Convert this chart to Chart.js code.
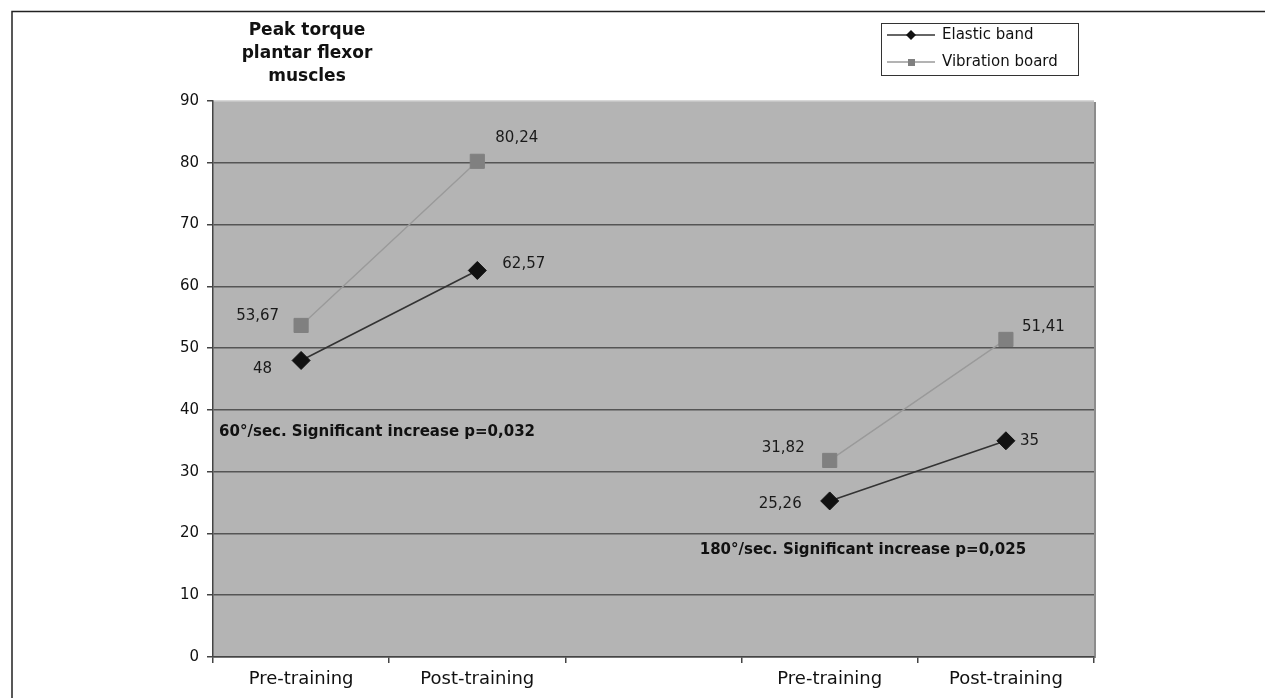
<!DOCTYPE html>
<html>
<head>
<meta charset="utf-8">
<script src="https://cdn.jsdelivr.net/npm/chart.js@4/dist/chart.umd.min.js"></script>
<style>
html,body{margin:0;padding:0;background:#fff;}
#wrap{position:relative;width:1265px;height:698px;}
</style>
</head>
<body>
<div id="wrap"><canvas id="c" width="1265" height="698"></canvas></div>
<script>
// ---- data ----
const categories = ['Pre-training', 'Post-training', '', 'Pre-training', 'Post-training'];
const elasticBand = [48, 62.57, null, 25.26, 35];
const vibrationBoard = [53.67, 80.24, null, 31.82, 51.41];
const elasticLabels = ['48', '62,57', '', '25,26', '35'];
const vibrationLabels = ['53,67', '80,24', '', '31,82', '51,41'];
const seriesNames = ['Elastic band', 'Vibration board'];
const titleLines = ['Peak torque', 'plantar flexor', 'muscles'];
const yTicks = [0, 10, 20, 30, 40, 50, 60, 70, 80, 90];
const notes = ['60°/sec. Significant increase p=0,032', '180°/sec. Significant increase p=0,025'];

// ---- placement (styles / offsets) ----
const labelPlacement = [
  // elastic
  [{dx:-29,dy:9,align:'right'},{dx:25,dy:-6,align:'left'},null,{dx:-28,dy:3,align:'right'},{dx:14,dy:0,align:'left'}],
  // vibration
  [{dx:-22,dy:-9,align:'right'},{dx:18,dy:-23,align:'left'},null,{dx:-25,dy:-12,align:'right'},{dx:16,dy:-12,align:'left'}]
];
const notePlacement = [{cat:0, value:36.4, dx:-82}, {cat:3, value:17.3, dx:-130}];

const FONT = '"DejaVu Sans", "Liberation Sans", Arial, sans-serif';

const decor = {
  id: 'decor',
  beforeDraw(chart) {
    const {ctx, chartArea: a} = chart;
    ctx.save();
    ctx.strokeStyle = '#222';
    ctx.lineWidth = 1.5;
    ctx.beginPath();
    ctx.moveTo(12, 698); ctx.lineTo(12, 11.5); ctx.lineTo(1265, 11.5);
    ctx.stroke();
    ctx.fillStyle = '#b4b4b4';
    ctx.fillRect(a.left, a.top, a.right - a.left, a.bottom - a.top);
    ctx.fillStyle = '#8c8c8c';
    ctx.fillRect(a.right, a.top + 1, 2, a.bottom - a.top);
    ctx.restore();
  },
  afterDatasetsDraw(chart) {
    const {ctx} = chart;
    ctx.save();
    ctx.fillStyle = '#111';
    ctx.font = 'bold 17px ' + FONT;
    ctx.textAlign = 'center';
    ctx.textBaseline = 'middle';
    const tY = [31, 54, 77];
    titleLines.forEach((t, i) => ctx.fillText(t, 307, tY[i]));

    ctx.font = '15px ' + FONT;
    ctx.fillStyle = '#1a1a1a';
    const lbls = [elasticLabels, vibrationLabels];
    [0, 1].forEach(di => {
      const meta = chart.getDatasetMeta(di);
      meta.data.forEach((pt, j) => {
        const p = labelPlacement[di][j];
        if (!p || !lbls[di][j]) return;
        ctx.textAlign = p.align;
        ctx.fillText(lbls[di][j], pt.x + p.dx, pt.y + p.dy);
      });
    });

    ctx.font = 'bold 15px ' + FONT;
    ctx.fillStyle = '#111';
    ctx.textAlign = 'left';
    const xs = chart.scales.x, ys = chart.scales.y;
    notes.forEach((n, i) => {
      const np = notePlacement[i];
      ctx.fillText(n, xs.getPixelForValue(np.cat) + np.dx, ys.getPixelForValue(np.value));
    });

    ctx.strokeStyle = '#333';
    ctx.lineWidth = 1;
    ctx.strokeRect(881.5, 23.5, 197, 52);
    const rows = [
      {y: 35, line: '#333', mark: 'diamond', color: '#111'},
      {y: 62, line: '#9a9a9a', mark: 'square', color: '#808080'}
    ];
    rows.forEach((r, i) => {
      ctx.strokeStyle = r.line;
      ctx.lineWidth = 1.3;
      ctx.beginPath(); ctx.moveTo(887, r.y); ctx.lineTo(935, r.y); ctx.stroke();
      ctx.fillStyle = r.color;
      if (r.mark === 'diamond') {
        ctx.beginPath();
        ctx.moveTo(911, r.y - 5); ctx.lineTo(916, r.y); ctx.lineTo(911, r.y + 5); ctx.lineTo(906, r.y);
        ctx.closePath(); ctx.fill();
      } else {
        ctx.fillRect(908, r.y - 3, 7, 7);
      }
      ctx.fillStyle = '#111';
      ctx.font = '15px ' + FONT;
      ctx.textAlign = 'left';
      ctx.fillText(seriesNames[i], 942, r.y);
    });
    ctx.restore();
  }
};

new Chart(document.getElementById('c'), {
  type: 'line',
  data: {
    labels: categories,
    datasets: [
      {
        label: seriesNames[0],
        data: elasticBand,
        borderColor: '#333',
        borderWidth: 1.6,
        pointStyle: 'rectRot',
        pointRadius: 9,
        pointBackgroundColor: '#111',
        pointBorderColor: '#111',
        pointBorderWidth: 1,
        spanGaps: false,
        tension: 0
      },
      {
        label: seriesNames[1],
        data: vibrationBoard,
        borderColor: '#9a9a9a',
        borderWidth: 1.4,
        pointStyle: 'rect',
        pointRadius: 10,
        pointBackgroundColor: '#808080',
        pointBorderColor: '#808080',
        pointBorderWidth: 1,
        spanGaps: false,
        tension: 0
      }
    ]
  },
  options: {
    responsive: false,
    animation: false,
    layout: {padding: {left: 0, top: 101, right: 171, bottom: 0}},
    plugins: {legend: {display: false}, title: {display: false}, tooltip: {enabled: false}},
    scales: {
      x: {
        type: 'category',
        offset: true,
        grid: {offset: true, drawOnChartArea: false, drawTicks: true, tickLength: 6, color: '#444', lineWidth: 1.5},
        border: {display: true, color: '#444', width: 1.5},
        ticks: {color: '#111', font: {family: FONT, size: 18}, padding: 6, maxRotation: 0, autoSkip: false},
        afterFit(s) { s.height = 41; }
      },
      y: {
        min: 0, max: 90,
        afterBuildTicks(s) { s.ticks = yTicks.map(v => ({value: v})); },
        grid: {
          color: ctx => (ctx.tick && ctx.tick.value === 90) ? '#d8d8d8' : '#555',
          lineWidth: 1.5,
          drawTicks: true,
          tickLength: 6,
          tickColor: '#444'
        },
        border: {display: true, color: '#444', width: 1.5},
        ticks: {color: '#111', font: {family: FONT, size: 15}, padding: 8},
        afterFit(s) { s.width = 213; }
      }
    }
  },
  plugins: [decor]
});
</script>
</body>
</html>
